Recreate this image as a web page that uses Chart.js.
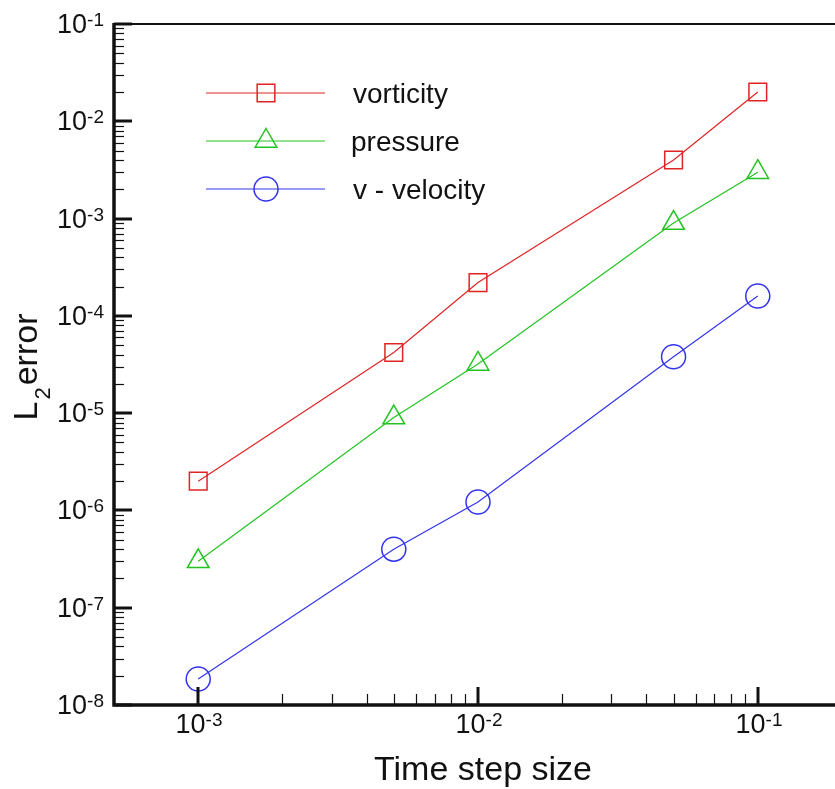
<!DOCTYPE html>
<html>
<head>
<meta charset="utf-8">
<script src="https://cdn.jsdelivr.net/npm/chart.js@4"></script>
<style>
html, body { margin: 0; padding: 0; overflow: hidden; background: #fff; }
canvas { display: block; }
</style>
</head>
<body>
<canvas id="chart-data" width="860" height="789"></canvas>
<script>
// data
var timeSteps = [0.001, 0.005, 0.01, 0.05, 0.1];
var vorticity = [2.0e-6, 4.2e-5, 2.2e-4, 4.0e-3, 2.0e-2];
var pressure = [3.0e-7, 9.0e-6, 3.2e-5, 9.0e-4, 3.0e-3];
var vVelocity = [1.85e-8, 4.0e-7, 1.22e-6, 3.8e-5, 1.6e-4];

// tick labels (powers of ten)
var xTickExps = [-3, -2, -1];
var yTickExps = [-8, -7, -6, -5, -4, -3, -2, -1];
var xMinorDecades = [-3, -2];
var yMinorDecades = [-8, -7, -6, -5, -4, -3, -2];

var seriesNames = ["vorticity", "pressure", "v - velocity"];
var seriesColors = ["#e02424", "#22c422", "#3434f0"];
var seriesShapes = ["rect", "triangle", "circle"];
var seriesValues = [vorticity, pressure, vVelocity];

var FONT = "Arial, 'Liberation Sans', Helvetica, sans-serif";

function toPoints(values) {
    return timeSteps.map(function (t, i) { return { x: t, y: values[i] }; });
}

var datasets = seriesNames.map(function (name, i) {
    return {
        label: name,
        data: toPoints(seriesValues[i]),
        borderColor: seriesColors[i],
        borderWidth: 1.2,
        pointStyle: seriesShapes[i],
        pointRadius: seriesShapes[i] == "circle" ? 12 : 12.5,
        pointBorderColor: seriesColors[i],
        pointBorderWidth: 1.5,
        pointBackgroundColor: "rgba(0,0,0,0)",
        tension: 0,
        fill: false,
        clip: false,
    };
});

// draws 10 with a raised exponent
function drawPow(ctx, exp, x, baseY, align) {
    var base = "10";
    var sup = String(exp);
    ctx.font = "27px " + FONT;
    var wb = ctx.measureText(base).width;
    ctx.font = "19px " + FONT;
    var ws = ctx.measureText(sup).width;
    var left = align == "right" ? x - wb - ws : x - (wb + ws) / 2;
    ctx.textAlign = "left";
    ctx.textBaseline = "alphabetic";
    ctx.font = "27px " + FONT;
    ctx.fillText(base, left, baseY);
    ctx.font = "19px " + FONT;
    ctx.fillText(sup, left + wb, baseY - 7);
}

function drawMarker(ctx, shape, x, y, r) {
    ctx.beginPath();
    if (shape == "rect") {
        var s = Math.SQRT1_2 * r;
        ctx.rect(x - s, y - s, 2 * s, 2 * s);
    } else if (shape == "triangle") {
        ctx.moveTo(x, y - r);
        ctx.lineTo(x + 0.866 * r, y + 0.5 * r);
        ctx.lineTo(x - 0.866 * r, y + 0.5 * r);
        ctx.closePath();
    } else {
        ctx.arc(x, y, r, 0, Math.PI * 2);
    }
    ctx.stroke();
}

var framePlugin = {
    id: "frame",
    afterDraw: function (chart) {
        var ctx = chart.ctx;
        var area = chart.chartArea;
        var xs = chart.scales.x;
        var ys = chart.scales.y;
        ctx.save();
        ctx.strokeStyle = "#111";
        ctx.fillStyle = "#111";

        // frame
        ctx.lineWidth = 2;
        ctx.beginPath();
        ctx.moveTo(area.left, area.top);
        ctx.lineTo(area.right, area.top);
        ctx.stroke();
        ctx.lineWidth = 3.5;
        ctx.beginPath();
        ctx.moveTo(area.left, area.top - 1);
        ctx.lineTo(area.left, area.bottom);
        ctx.lineTo(area.right, area.bottom);
        ctx.stroke();

        // y ticks
        yTickExps.forEach(function (e) {
            var py = Math.round(ys.getPixelForValue(Math.pow(10, e)));
            ctx.lineWidth = 3;
            ctx.beginPath();
            ctx.moveTo(area.left, py);
            ctx.lineTo(area.left + 18, py);
            ctx.stroke();
            drawPow(ctx, e, 104, py + 9, "right");
        });
        yMinorDecades.forEach(function (e) {
            for (var k = 2; k <= 9; k++) {
                var py = Math.round(ys.getPixelForValue(k * Math.pow(10, e))) + 0.5;
                ctx.lineWidth = 1.2;
                ctx.beginPath();
                ctx.moveTo(area.left, py);
                ctx.lineTo(area.left + 10, py);
                ctx.stroke();
            }
        });

        // x ticks
        xTickExps.forEach(function (e) {
            var px = Math.round(xs.getPixelForValue(Math.pow(10, e)));
            ctx.lineWidth = 3;
            ctx.beginPath();
            ctx.moveTo(px, area.bottom);
            ctx.lineTo(px, area.bottom - 18);
            ctx.stroke();
            drawPow(ctx, e, px + 1, 733, "center");
        });
        xMinorDecades.forEach(function (e) {
            for (var k = 2; k <= 9; k++) {
                var px = Math.round(xs.getPixelForValue(k * Math.pow(10, e))) + 0.5;
                ctx.lineWidth = 1.2;
                ctx.beginPath();
                ctx.moveTo(px, area.bottom);
                ctx.lineTo(px, area.bottom - 11);
                ctx.stroke();
            }
        });

        // axis titles
        ctx.textBaseline = "alphabetic";
        ctx.textAlign = "center";
        ctx.font = "34px " + FONT;
        ctx.fillText("Time step size", 483, 780);

        ctx.save();
        ctx.translate(37, 367);
        ctx.rotate(-Math.PI / 2);
        ctx.textAlign = "left";
        ctx.font = "34px " + FONT;
        var wL = ctx.measureText("L").width;
        var wE = ctx.measureText("error").width;
        ctx.font = "22px " + FONT;
        var w2 = ctx.measureText("2").width;
        var start = -(wL + w2 + wE + 4) / 2;
        ctx.font = "34px " + FONT;
        ctx.fillText("L", start, 0);
        ctx.font = "22px " + FONT;
        ctx.fillText("2", start + wL + 2, 13);
        ctx.font = "34px " + FONT;
        ctx.fillText("error", start + wL + w2 + 4, 0);
        ctx.restore();

        // legend inside the plot
        var rows = [93, 141, 189];
        seriesNames.forEach(function (name, i) {
            var y = rows[i];
            ctx.strokeStyle = seriesColors[i];
            ctx.lineWidth = 1.2;
            ctx.beginPath();
            ctx.moveTo(206, y);
            ctx.lineTo(325, y);
            ctx.stroke();
            ctx.lineWidth = 1.5;
            drawMarker(ctx, seriesShapes[i], 266, y, seriesShapes[i] == "circle" ? 12 : 12.5);
            ctx.fillStyle = "#111";
            ctx.textAlign = "left";
            ctx.font = "28px " + FONT;
            ctx.fillText(name, i == 1 ? 351 : 353, y + 9.5);
        });
        ctx.restore();
    },
};

var ctx = document.getElementById("chart-data").getContext("2d");
var chart = new Chart(ctx, {
    type: "line",
    data: { datasets: datasets },
    options: {
        responsive: false,
        animation: false,
        devicePixelRatio: 1,
        layout: {
            padding: { left: 114, top: 24, right: 18, bottom: 84 },
        },
        plugins: {
            legend: { display: false },
            tooltip: { enabled: false },
        },
        scales: {
            x: {
                type: "logarithmic",
                display: false,
                min: 5e-4,
                max: 0.2,
            },
            y: {
                type: "logarithmic",
                display: false,
                min: 1e-8,
                max: 1e-1,
            },
        },
    },
    plugins: [framePlugin],
});
</script>
</body>
</html>
